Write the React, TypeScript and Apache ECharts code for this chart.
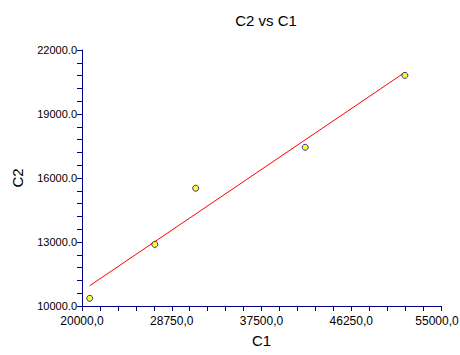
import React, { useEffect, useRef } from "react";
import * as echarts from "echarts";

// Data
const c1Values = [20750, 27100, 31080, 41760, 51480];
const c2Values = [10360, 12890, 15520, 17440, 20810];

// Axis ticks (major, labelled)
const xTickValues = [20000, 28750, 37500, 46250, 55000];
const yTickValues = [10000, 13000, 16000, 19000, 22000];
const minorSplit = 5;

const titleText = "C2 vs C1";
const xName = "C1";
const yName = "C2";

function withMinor(major: number[], split: number): number[] {
  const out: number[] = [];
  for (let i = 0; i < major.length; i++) {
    out.push(major[i]);
    if (i < major.length - 1) {
      const step = (major[i + 1] - major[i]) / split;
      for (let k = 1; k < split; k++) out.push(major[i] + step * k);
    }
  }
  return out;
}

function regression(xs: number[], ys: number[]) {
  const n = xs.length;
  const mx = xs.reduce((a, b) => a + b, 0) / n;
  const my = ys.reduce((a, b) => a + b, 0) / n;
  let sxy = 0;
  let sxx = 0;
  for (let i = 0; i < n; i++) {
    sxy += (xs[i] - mx) * (ys[i] - my);
    sxx += (xs[i] - mx) * (xs[i] - mx);
  }
  const slope = sxy / sxx;
  const intercept = my - slope * mx;
  const x0 = Math.min(...xs);
  const x1 = Math.max(...xs);
  return [
    [x0, intercept + slope * x0],
    [x1, intercept + slope * x1],
  ];
}

const AXIS_COLOR = "#000080";
const FONT = "'Liberation Sans', Arial, sans-serif";

export default function App() {
  const ref = useRef<HTMLDivElement>(null);

  useEffect(() => {
    if (!ref.current) return;
    const chart = echarts.init(ref.current, undefined, { renderer: "svg" });
    const points = c1Values.map((x, i) => [x, c2Values[i]]);
    const fit = regression(c1Values, c2Values);
    const xMax = xTickValues[xTickValues.length - 1];

    chart.setOption({
      animation: false,
      backgroundColor: "#ffffff",
      title: {
        text: titleText,
        left: 261,
        top: 8,
        textAlign: "center",
        textStyle: {
          fontFamily: FONT,
          fontSize: 15,
          fontWeight: "normal",
          color: "#000000",
        },
      },
      grid: {
        left: 82,
        right: 19,
        top: 50,
        bottom: 49,
        containLabel: false,
        outerBoundsMode: "none",
      },
      xAxis: {
        type: "value",
        min: xTickValues[0],
        max: xMax,
        name: xName,
        nameLocation: "middle",
        nameGap: 27,
        nameTextStyle: { fontFamily: FONT, fontSize: 15, color: "#000000" },
        axisLine: { show: true, onZero: false, lineStyle: { color: AXIS_COLOR, width: 1 } },
        axisTick: {
          show: true,
          inside: false,
          length: 5,
          lineStyle: { color: AXIS_COLOR, width: 1 },
          customValues: withMinor(xTickValues, minorSplit),
        },
        axisLabel: {
          margin: 9,
          fontFamily: FONT,
          fontSize: 12,
          color: "#000000",
          customValues: xTickValues,
          hideOverlap: false,
          formatter: (v: number) => {
            const s = v.toFixed(1).replace(".", ",");
            return v === xMax ? `{last|${s}}` : s;
          },
          rich: {
            last: {
              fontFamily: FONT,
              fontSize: 12,
              color: "#000000",
              padding: [0, 8, 0, 0],
            },
          },
        },
        splitLine: { show: false },
      },
      yAxis: {
        type: "value",
        min: yTickValues[0],
        max: yTickValues[yTickValues.length - 1],
        name: yName,
        nameLocation: "middle",
        nameGap: 57,
        nameRotate: 90,
        nameTextStyle: { fontFamily: FONT, fontSize: 15, color: "#000000" },
        axisLine: { show: true, onZero: false, lineStyle: { color: AXIS_COLOR, width: 1 } },
        axisTick: {
          show: true,
          inside: false,
          length: 5,
          lineStyle: { color: AXIS_COLOR, width: 1 },
          customValues: withMinor(yTickValues, minorSplit),
        },
        axisLabel: {
          margin: 5,
          fontFamily: FONT,
          fontSize: 11,
          color: "#000000",
          customValues: yTickValues,
          formatter: (v: number) => v.toFixed(1),
        },
        splitLine: { show: false },
      },
      series: [
        {
          type: "line",
          data: fit,
          symbol: "none",
          lineStyle: { color: "#ff0000", width: 1 },
          z: 2,
        },
        {
          type: "scatter",
          data: points,
          symbol: "circle",
          symbolSize: 6,
          itemStyle: { color: "#ffff00", borderColor: AXIS_COLOR, borderWidth: 1 },
          z: 3,
        },
      ],
    });

    return () => chart.dispose();
  }, []);

  return (
    <div
      ref={ref}
      style={{ position: "fixed", left: 0, top: 0, width: 460, height: 355, background: "#fff" }}
    />
  );
}
